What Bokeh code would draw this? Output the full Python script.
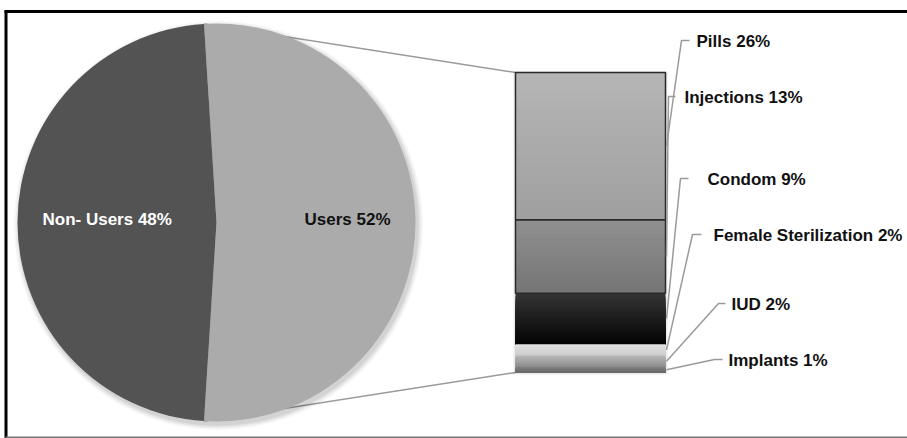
import math
from bokeh.plotting import figure
from bokeh.models import Range1d
from bokeh.core.properties import value
from bokeh.embed import file_html
from bokeh.resources import INLINE

# ---------------- data ----------------
pie_labels = ["Users 52%", "Non- Users 48%"]
pie_values = [52, 48]

bar_labels = ["Pills 26%", "Injections 13%", "Condom 9%",
              "Female Sterilization 2%", "IUD 2%", "Implants 1%"]
bar_values = [26, 13, 9, 2, 2, 1]

# ---------------- layout / style ----------------
W, H = 907, 438
def Y(img_y):
    return H - img_y

pie_cx, pie_cy, pie_r = 216, Y(222), 199
pie_colors = ["#ababab", "#535353"]
pie_text_colors = ["#111111", "#ffffff"]
pie_label_x = [304, 42]
pie_label_y = [219, 219]

bar_left, bar_right, bar_top_img, bar_bottom_img = 515, 665, 72, 372
seg_top_colors = ["#b5b5b5", "#8f8f8f", "#333333", "#e2e2e2", "#b8b8b8", "#808080"]
seg_bot_colors = ["#a0a0a0", "#767676", "#050505", "#cdcdcd", "#8e8e8e", "#6a6a6a"]

label_x = [696, 684, 707, 713, 731, 728]
label_y = [41, 97, 179, 235, 304, 360]
tick_x0 = [681, 668, 680, 692, 718, 714]
tick_len = [8, 7, 8, 9, 7, 8]

FONT = value("Liberation Sans")

p = figure(width=W, height=H, x_range=Range1d(0, W), y_range=Range1d(0, H),
           output_backend="svg", toolbar_location=None, min_border=0)
p.axis.visible = False
p.grid.visible = False
p.outline_line_color = None
p.background_fill_color = "white"
p.border_fill_color = "white"

# ---------------- bar geometry from data ----------------
total = sum(bar_values)
px_per = (bar_bottom_img - bar_top_img) / total
seg_top, seg_bot = [], []
acc = 0
for v in bar_values:
    seg_top.append(Y(bar_top_img + acc * px_per))
    acc += v
    seg_bot.append(Y(bar_top_img + acc * px_per))

# ---------------- pie angles ----------------
tot_p = sum(pie_values)
users_ang = 2 * math.pi * pie_values[0] / tot_p
a_users_start, a_users_end = -users_ang / 2, users_ang / 2
a_non_start, a_non_end = users_ang / 2, users_ang / 2 + 2 * math.pi * pie_values[1] / tot_p

# connector lines (drawn under the pie)
top_pt = (pie_cx + pie_r * math.cos(a_users_end), pie_cy + pie_r * math.sin(a_users_end))
bot_pt = (pie_cx + pie_r * math.cos(a_users_start), pie_cy + pie_r * math.sin(a_users_start))
p.segment(x0=[top_pt[0], bot_pt[0]], y0=[top_pt[1], bot_pt[1]],
          x1=[bar_left, bar_left], y1=[seg_top[0], seg_bot[-1]],
          line_color="#9a9a9a", line_width=1.5)

# pie shadow
for k, a in enumerate([0.06, 0.05, 0.04, 0.03]):
    p.circle(x=pie_cx + 2, y=pie_cy - 3, radius=pie_r + 1 + k * 1.5,
             fill_color="black", fill_alpha=a, line_color=None)

# pie
p.wedge(x=pie_cx, y=pie_cy, radius=pie_r, start_angle=a_users_start, end_angle=a_users_end,
        fill_color=pie_colors[0], line_color=None)
p.wedge(x=pie_cx, y=pie_cy, radius=pie_r, start_angle=a_non_start, end_angle=a_non_end,
        fill_color=pie_colors[1], line_color=None)

p.text(x=pie_label_x, y=[Y(v) for v in pie_label_y], text=pie_labels,
       text_color=pie_text_colors, text_font=FONT, text_font_style="bold",
       text_font_size="17px", text_baseline="middle", text_align="left")

# bar shadow
p.quad(left=bar_left - 2, right=bar_right + 2, top=seg_top[0] + 1, bottom=seg_bot[-1] - 2,
       fill_color="black", fill_alpha=0.08, line_color=None)

# bar segments with vertical gradient (each band runs to the segment bottom,
# later bands paint over earlier ones -> no seams)
def hex2rgb(h):
    h = h.lstrip("#")
    return [int(h[i:i + 2], 16) for i in (0, 2, 4)]

N = 16
for i in range(len(bar_values)):
    c0, c1 = hex2rgb(seg_top_colors[i]), hex2rgb(seg_bot_colors[i])
    t, b = seg_top[i], seg_bot[i]
    tops, cols = [], []
    for k in range(N):
        f = k / (N - 1)
        cols.append("#%02x%02x%02x" % tuple(int(round(c0[j] + (c1[j] - c0[j]) * f)) for j in range(3)))
        tops.append(t - (t - b) * k / N)
    p.quad(left=[bar_left] * N, right=[bar_right] * N, top=tops, bottom=[b] * N,
           fill_color=cols, line_color=None)

# outlines on the two large segments
p.quad(left=bar_left, right=bar_right, top=seg_top[:2], bottom=seg_bot[:2],
       fill_color=None, line_color="#2a2a2a", line_width=1.5)

# leader lines
mids = [(seg_top[i] + seg_bot[i]) / 2 for i in range(len(bar_values))]
for i in range(len(bar_values)):
    ty = Y(label_y[i] - 1)
    p.line(x=[tick_x0[i] + tick_len[i], tick_x0[i], bar_right + 1],
           y=[ty, ty, mids[i]], line_color="#9a9a9a", line_width=1.5)

p.text(x=label_x, y=[Y(v) for v in label_y], text=bar_labels,
       text_color="#111111", text_font=FONT, text_font_style="bold",
       text_font_size="17px", text_baseline="middle", text_align="left")

# frame
p.segment(x0=[4, 5.5], y0=[Y(11), Y(10)], x1=[W, 5.5], y1=[Y(11), 0],
          line_color="black", line_width=3)
p.segment(x0=5, y0=Y(437), x1=W, y1=Y(437), line_color="#777777", line_width=2)

open("out.html", "w").write(file_html(p, INLINE))
